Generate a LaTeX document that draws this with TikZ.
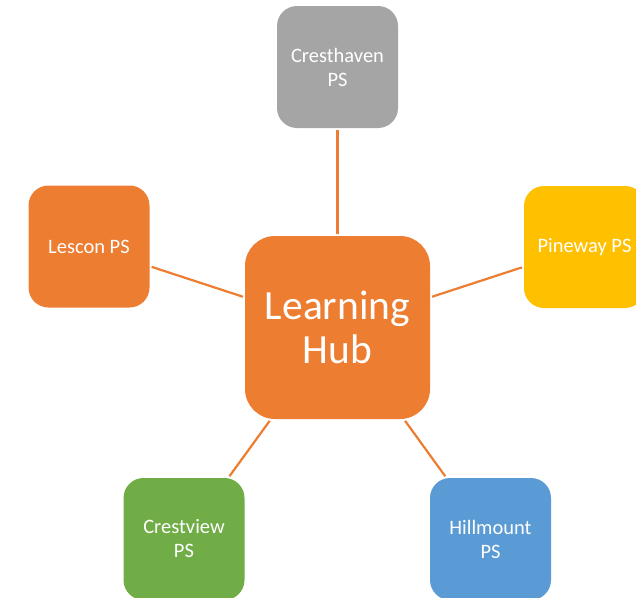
\documentclass[tikz,border=0pt]{standalone}
\usepackage{fontspec}
\setmainfont{Carlito}
\definecolor{hubOrange}{HTML}{ED7D31}
\definecolor{schGray}{HTML}{A5A5A5}
\definecolor{schYellow}{HTML}{FFC000}
\definecolor{schGreen}{HTML}{70AD47}
\definecolor{schBlue}{HTML}{5B9BD5}
\tikzset{
  school/.style={rectangle, rounded corners=20pt, minimum width=121pt, minimum height=122pt,
    inner sep=0pt, text=white, align=center, font=\fontsize{20.5pt}{24pt}\selectfont},
  hubbox/.style={rectangle, rounded corners=30pt, minimum width=185pt, minimum height=183pt,
    inner sep=0pt, text=white, fill=hubOrange, align=center, font=\fontsize{41.5pt}{44pt}\selectfont},
  link/.style={draw=hubOrange, line width=2.2pt, shorten >=2pt, shorten <=2pt}
}
\begin{document}
\begin{tikzpicture}[x=1pt,y=-1pt]
\useasboundingbox (0,0) rectangle (636,597);
\clip (0,0) rectangle (636,597);
\fill[white] (0,0) rectangle (636,597);
\node[hubbox] (hub) at (337.5,327.5) {Learning\\Hub};
\node[school, fill=schGray] (crest) at (337.5,67) {Cresthaven\\PS};
\node[school, fill=hubOrange] (lescon) at (89,246.5) {Lescon PS};
\node[school, fill=schYellow] (pine) at (584.5,247) {Pineway PS};
\node[school, fill=schGreen] (cview) at (184,539) {Crestview\\PS};
\node[school, fill=schBlue] (hill) at (490.5,539) {Hillmount\\PS};
\draw[link] (hub) -- (crest);
\draw[link] (hub) -- (lescon);
\draw[link] (hub) -- (pine);
\draw[link] (hub) -- (cview);
\draw[link] (hub) -- (hill);
\end{tikzpicture}
\end{document}
